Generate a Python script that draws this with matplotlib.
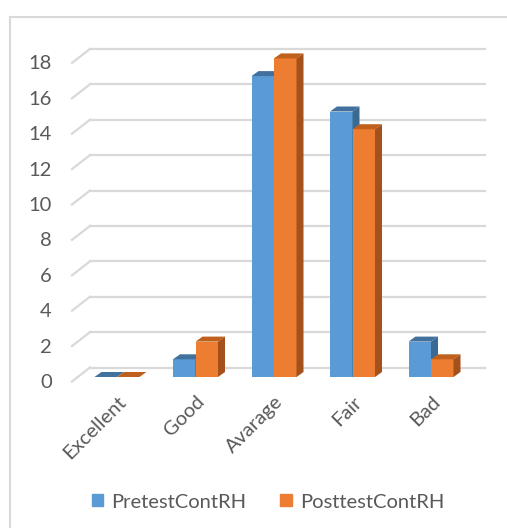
import matplotlib
matplotlib.use("Agg")
import matplotlib.pyplot as plt
from matplotlib.patches import Polygon, Patch
from matplotlib.lines import Line2D

categories = ["Excellent", "Good", "Avarage", "Fair", "Bad"]
pretest = [0, 1, 17, 15, 2]
posttest = [0, 2, 18, 14, 1]
yticks = [0, 2, 4, 6, 8, 10, 12, 14, 16, 18]
series_names = ["PretestContRH", "PosttestContRH"]

front_cols = ["#5b9bd5", "#ed7d31"]
top_cols = ["#41719c", "#c0601d"]
side_cols = ["#3a6a94", "#a5511c"]
grid_col = "#d9d9d9"
text_col = "#595959"
font = ["Lato", "DejaVu Sans"]
fs = 14.5

W, H = 507, 528
fig = plt.figure(figsize=(W / 100, H / 100), dpi=100)
ax = fig.add_axes([0, 0, 1, 1])

# pixel scale of the data space
px_x = 78.5   # pixels per category
px_y = 17.7   # pixels per value unit
x0_px, y0_px = 117, 377
ax.set_xlim(-x0_px / px_x, (W - x0_px) / px_x)
ax.set_ylim(-(H - y0_px) / px_y, y0_px / px_y)
ax.axis("off")

bw = 22.5 / px_x
bdx, bdy = 7 / px_x, 5 / px_y

# back wall gridlines and the depth diagonals
gx0, gx1 = (90 - x0_px) / px_x, (485 - x0_px) / px_x
gdy = 9.5 / px_y
fdx, fdy = 18 / px_x, 14 / px_y
for v in yticks:
    yb = v + gdy
    ax.add_line(Line2D([gx0, gx1], [yb, yb], color=grid_col, lw=1.6, zorder=1))
    ax.add_line(Line2D([gx0 - fdx, gx0], [yb - fdy, yb], color=grid_col, lw=1.6, zorder=1))
    ax.text((52 - x0_px) / px_x, yb - fdy - 1 / px_y, str(v), ha="right", va="center",
            fontsize=fs, color=text_col, family=font)

# bars with top and side faces
for i, cat in enumerate(categories):
    for s, vals in enumerate([pretest, posttest]):
        xl = i - bw + s * bw
        xr = xl + bw
        h = vals[i]
        z = 3 + s * 3
        ax.bar(xl, h, width=bw, align="edge", color=front_cols[s], lw=0, zorder=z)
        ax.add_patch(Polygon([(xl, h), (xr, h), (xr + bdx, h + bdy), (xl + bdx, h + bdy)],
                             closed=True, color=top_cols[s], lw=0, zorder=z + 1))
        if h > 0:
            ax.add_patch(Polygon([(xr, 0), (xr, h), (xr + bdx, h + bdy), (xr + bdx, bdy)],
                                 closed=True, color=side_cols[s], lw=0, zorder=z + 1))
    ax.text(i, -16 / px_y, cat, rotation=45, ha="right", va="top",
            rotation_mode="anchor", fontsize=fs, color=text_col, family=font)

# chart frame
fig.add_artist(Line2D([9.5 / W, 1], [1 - 16.5 / H, 1 - 16.5 / H], color=grid_col, lw=1.5))
fig.add_artist(Line2D([9.5 / W, 9.5 / W], [0, 1 - 16.5 / H], color=grid_col, lw=1.5))

handles = [Patch(color=c) for c in front_cols]
leg = fig.legend(handles, series_names, loc="center", bbox_to_anchor=(268 / W, 1 - 502 / H),
                 ncol=2, frameon=False, handlelength=0.55, handleheight=0.55,
                 handletextpad=0.4, columnspacing=1.7,
                 prop={"family": font, "size": fs})
for t in leg.get_texts():
    t.set_color(text_col)

fig.savefig("out.png", dpi=100)
